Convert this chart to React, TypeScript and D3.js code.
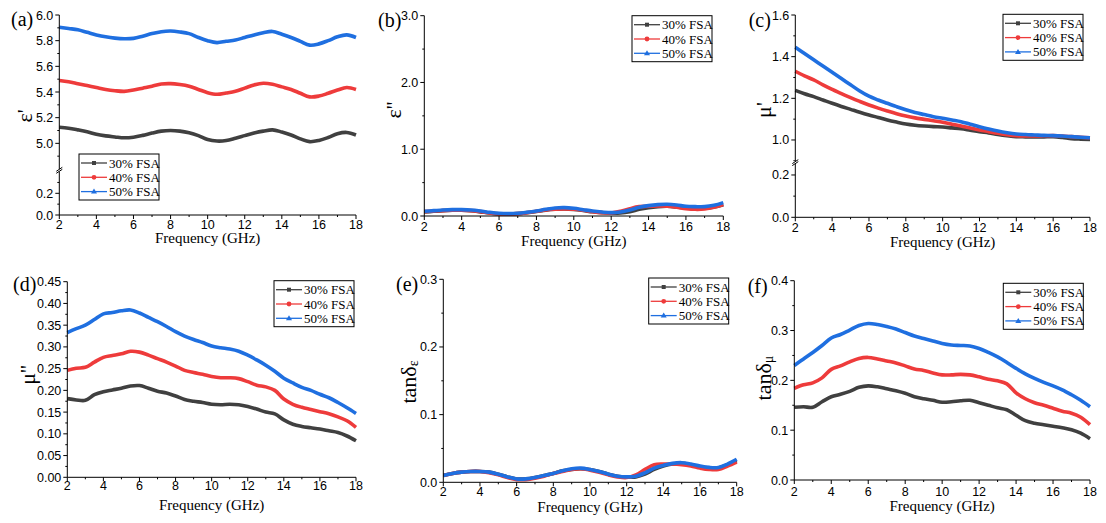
import React from "react";
import * as d3 from "d3";

// ---------- DATA ----------
const freq = [2, 2.5, 3, 3.5, 4, 4.5, 5, 5.5, 6, 6.5, 7, 7.5, 8, 8.5, 9, 9.5, 10, 10.5, 11, 11.5, 12, 12.5, 13, 13.5, 14, 14.5, 15, 15.5, 16, 16.5, 17, 17.5, 18];
const seriesNames = ["30% FSA", "40% FSA", "50% FSA"];
const xTicks = [2, 4, 6, 8, 10, 12, 14, 16, 18];

// (a) epsilon'
const epsReal30 = [5.125, 5.118, 5.105, 5.09, 5.07, 5.058, 5.05, 5.043, 5.048, 5.062, 5.08, 5.095, 5.1, 5.095, 5.082, 5.06, 5.03, 5.018, 5.022, 5.04, 5.06, 5.08, 5.095, 5.105, 5.088, 5.065, 5.035, 5.013, 5.022, 5.045, 5.075, 5.085, 5.065];
const epsReal40 = [5.49, 5.48, 5.465, 5.45, 5.435, 5.42, 5.41, 5.405, 5.415, 5.43, 5.445, 5.462, 5.465, 5.458, 5.445, 5.42, 5.395, 5.382, 5.392, 5.405, 5.43, 5.455, 5.468, 5.46, 5.44, 5.42, 5.39, 5.362, 5.368, 5.39, 5.415, 5.435, 5.42];
const epsReal50 = [5.905, 5.895, 5.885, 5.865, 5.845, 5.83, 5.82, 5.815, 5.818, 5.835, 5.855, 5.87, 5.875, 5.868, 5.855, 5.825, 5.8, 5.785, 5.795, 5.805, 5.825, 5.845, 5.862, 5.872, 5.85, 5.825, 5.795, 5.765, 5.775, 5.8, 5.83, 5.845, 5.825];

// (b) epsilon''
const epsImag30 = [0.06, 0.07, 0.08, 0.085, 0.085, 0.078, 0.062, 0.045, 0.032, 0.03, 0.035, 0.05, 0.068, 0.088, 0.1, 0.105, 0.098, 0.082, 0.063, 0.05, 0.042, 0.045, 0.065, 0.1, 0.125, 0.14, 0.145, 0.135, 0.12, 0.115, 0.115, 0.135, 0.17];
const epsImag40 = [0.065, 0.075, 0.08, 0.085, 0.085, 0.08, 0.065, 0.045, 0.03, 0.03, 0.035, 0.05, 0.07, 0.09, 0.1, 0.105, 0.1, 0.085, 0.065, 0.05, 0.045, 0.07, 0.11, 0.14, 0.145, 0.15, 0.145, 0.13, 0.11, 0.1, 0.105, 0.13, 0.17];
const epsImag50 = [0.07, 0.08, 0.09, 0.095, 0.095, 0.09, 0.075, 0.055, 0.04, 0.035, 0.04, 0.055, 0.075, 0.1, 0.12, 0.125, 0.115, 0.095, 0.075, 0.06, 0.05, 0.06, 0.09, 0.13, 0.155, 0.17, 0.175, 0.165, 0.145, 0.14, 0.14, 0.16, 0.2];

// (c) mu'
const muReal30 = [1.238, 1.222, 1.208, 1.192, 1.176, 1.161, 1.147, 1.133, 1.12, 1.108, 1.096, 1.086, 1.077, 1.071, 1.067, 1.064, 1.062, 1.058, 1.054, 1.047, 1.04, 1.034, 1.027, 1.021, 1.016, 1.015, 1.014, 1.015, 1.016, 1.012, 1.006, 1.004, 1.003];
const muReal40 = [1.33, 1.308, 1.288, 1.265, 1.243, 1.222, 1.203, 1.185, 1.168, 1.153, 1.139, 1.126, 1.115, 1.106, 1.099, 1.092, 1.085, 1.076, 1.067, 1.057, 1.048, 1.04, 1.032, 1.025, 1.02, 1.019, 1.019, 1.02, 1.021, 1.019, 1.016, 1.013, 1.011];
const muReal50 = [1.445, 1.415, 1.385, 1.355, 1.325, 1.295, 1.265, 1.235, 1.21, 1.192, 1.176, 1.16, 1.145, 1.132, 1.122, 1.112, 1.104, 1.096, 1.088, 1.076, 1.064, 1.053, 1.043, 1.035, 1.029, 1.026, 1.024, 1.022, 1.021, 1.019, 1.016, 1.013, 1.011];

// (d) mu''
const muImag30 = [0.181, 0.178, 0.177, 0.19, 0.197, 0.201, 0.205, 0.21, 0.211, 0.205, 0.198, 0.194, 0.187, 0.179, 0.175, 0.172, 0.168, 0.167, 0.168, 0.167, 0.163, 0.157, 0.15, 0.146, 0.132, 0.122, 0.117, 0.114, 0.111, 0.107, 0.103, 0.095, 0.084];
const muImag40 = [0.246, 0.251, 0.253, 0.265, 0.276, 0.28, 0.284, 0.29, 0.288, 0.281, 0.273, 0.265, 0.256, 0.246, 0.241, 0.237, 0.232, 0.229, 0.229, 0.227, 0.22, 0.212, 0.208, 0.2, 0.18, 0.168, 0.161, 0.156, 0.151, 0.146, 0.139, 0.13, 0.115];
const muImag50 = [0.333, 0.342, 0.35, 0.363, 0.376, 0.379, 0.383, 0.385, 0.378, 0.368, 0.358, 0.347, 0.335, 0.325, 0.317, 0.31, 0.302, 0.298, 0.295, 0.29, 0.281, 0.27, 0.258, 0.244, 0.228, 0.217, 0.207, 0.2, 0.191, 0.183, 0.172, 0.16, 0.147];

// (e) tan delta epsilon
const tanE30 = [0.01, 0.013, 0.015, 0.016, 0.016, 0.015, 0.012, 0.008, 0.005, 0.005, 0.007, 0.01, 0.013, 0.017, 0.019, 0.02, 0.019, 0.016, 0.012, 0.009, 0.008, 0.008, 0.012, 0.019, 0.024, 0.027, 0.028, 0.026, 0.023, 0.021, 0.021, 0.026, 0.032];
const tanE40 = [0.01, 0.013, 0.015, 0.016, 0.016, 0.014, 0.011, 0.007, 0.004, 0.004, 0.006, 0.009, 0.013, 0.016, 0.019, 0.02, 0.018, 0.015, 0.011, 0.008, 0.007, 0.011, 0.019, 0.026, 0.027, 0.027, 0.026, 0.024, 0.021, 0.019, 0.019, 0.024, 0.03];
const tanE50 = [0.01, 0.013, 0.015, 0.016, 0.016, 0.015, 0.012, 0.008, 0.005, 0.005, 0.007, 0.01, 0.013, 0.017, 0.02, 0.021, 0.019, 0.016, 0.012, 0.009, 0.008, 0.009, 0.014, 0.021, 0.025, 0.028, 0.029, 0.027, 0.024, 0.022, 0.022, 0.027, 0.034];

// (f) tan delta mu
const tanM30 = [0.146, 0.147, 0.146, 0.157, 0.167, 0.172, 0.178, 0.186, 0.189, 0.187, 0.183, 0.179, 0.174, 0.167, 0.163, 0.16, 0.156, 0.157, 0.159, 0.16, 0.155, 0.15, 0.145, 0.141, 0.13, 0.119, 0.114, 0.111, 0.108, 0.105, 0.101, 0.094, 0.083];
const tanM40 = [0.184, 0.191, 0.195, 0.205, 0.222, 0.229, 0.237, 0.244, 0.246, 0.243, 0.239, 0.235, 0.229, 0.223, 0.22, 0.215, 0.211, 0.211, 0.212, 0.211, 0.207, 0.202, 0.199, 0.193, 0.175, 0.163, 0.155, 0.15, 0.144, 0.138, 0.134, 0.126, 0.111];
const tanM50 = [0.23, 0.243, 0.256, 0.27, 0.285, 0.292, 0.301, 0.31, 0.314, 0.312, 0.308, 0.303, 0.296, 0.289, 0.284, 0.279, 0.274, 0.271, 0.27, 0.269, 0.264, 0.256, 0.247, 0.236, 0.224, 0.213, 0.204, 0.196, 0.189, 0.181, 0.171, 0.16, 0.147];

// ---------- STYLE / LAYOUT ----------
const COLORS = ["#404040", "#ee3b3b", "#1f6fe0"];
const SERIF = "'Liberation Serif', 'Times New Roman', serif";
const SANS = "'Liberation Sans', Arial, sans-serif";

type Seg = { domain: [number, number]; range: [number, number]; ticks: number[]; minor: number[]; fmt: string };

type PanelCfg = {
  label: string;
  labelPos: [number, number];
  xL: number;
  xR: number;
  yAxisBottom: number;
  yAxisTop: number;
  segs: Seg[];
  breakY?: number;
  series: number[][];
  title: React.ReactNode;
  titlePos: [number, number];
  legendPos: [number, number];
  tickBase: number;
  xTitleBase: number;
};

const tickRange = (a: number, b: number, s: number) => {
  const out: number[] = [];
  for (let i = 0; a + i * s <= b + 1e-9; i++) out.push(+(a + i * s).toFixed(4));
  return out;
};

const panels: PanelCfg[] = [
  {
    label: "(a)", labelPos: [11, 26], xL: 59.3, xR: 356, yAxisBottom: 215, yAxisTop: 15,
    segs: [
      { domain: [0, 0.4], range: [215, 171.6], ticks: [0, 0.2], minor: [0.1, 0.3], fmt: ".1f" },
      { domain: [4.8, 6.0], range: [169, 15], ticks: tickRange(5.0, 6.0, 0.2), minor: tickRange(4.9, 5.9, 0.2), fmt: ".1f" },
    ],
    breakY: 170.3,
    series: [epsReal30, epsReal40, epsReal50],
    title: <>ε'</>, titlePos: [24, 116], legendPos: [79, 154], tickBase: 229, xTitleBase: 243,
  },
  {
    label: "(b)", labelPos: [378, 27], xL: 424.3, xR: 723.3, yAxisBottom: 216, yAxisTop: 15.7,
    segs: [{ domain: [0, 3], range: [216, 15.7], ticks: [0, 1, 2, 3], minor: [0.5, 1.5, 2.5], fmt: ".1f" }],
    series: [epsImag30, epsImag40, epsImag50],
    title: <>ε''</>, titlePos: [393, 110], legendPos: [632, 15.7], tickBase: 231, xTitleBase: 246,
  },
  {
    label: "(c)", labelPos: [748.7, 27], xL: 795.3, xR: 1090, yAxisBottom: 217.3, yAxisTop: 15,
    segs: [
      { domain: [0, 0.25], range: [217.3, 164.4], ticks: [0, 0.2], minor: [0.1], fmt: ".1f" },
      { domain: [0.9, 1.6], range: [160.8, 15], ticks: tickRange(1.0, 1.6, 0.2), minor: tickRange(0.9, 1.5, 0.2), fmt: ".1f" },
    ],
    breakY: 162.6,
    series: [muReal30, muReal40, muReal50],
    title: <>μ'</>, titlePos: [763, 110], legendPos: [1003, 14.3], tickBase: 232, xTitleBase: 247,
  },
  {
    label: "(d)", labelPos: [13, 291], xL: 67.3, xR: 356, yAxisBottom: 477.3, yAxisTop: 281.7,
    segs: [{ domain: [0, 0.45], range: [477.3, 281.7], ticks: tickRange(0, 0.45, 0.05), minor: tickRange(0.025, 0.425, 0.05), fmt: ".2f" }],
    series: [muImag30, muImag40, muImag50],
    title: <>μ''</>, titlePos: [27, 375], legendPos: [274, 280.7], tickBase: 490, xTitleBase: 510,
  },
  {
    label: "(e)", labelPos: [396, 291], xL: 443.3, xR: 736.7, yAxisBottom: 482.3, yAxisTop: 279.3,
    segs: [{ domain: [0, 0.3], range: [482.3, 279.3], ticks: [0, 0.1, 0.2, 0.3], minor: [0.05, 0.15, 0.25], fmt: ".1f" }],
    series: [tanE30, tanE40, tanE50],
    title: <>tanδ<tspan fontSize={14} dy={5}>ε</tspan></>, titlePos: [408, 382], legendPos: [648.7, 278], tickBase: 496, xTitleBase: 512,
  },
  {
    label: "(f)", labelPos: [747.7, 293], xL: 794.3, xR: 1090, yAxisBottom: 480, yAxisTop: 280.7,
    segs: [{ domain: [0, 0.4], range: [480, 280.7], ticks: [0, 0.1, 0.2, 0.3, 0.4], minor: [0.05, 0.15, 0.25, 0.35], fmt: ".1f" }],
    series: [tanM30, tanM40, tanM50],
    title: <>tanδ<tspan fontSize={14} dy={5}>μ</tspan></>, titlePos: [763, 378], legendPos: [1003.3, 283.3], tickBase: 496, xTitleBase: 511,
  },
];

function Marker({ kind, x, y, color }: { kind: number; x: number; y: number; color: string }) {
  if (kind === 0) return <rect x={x - 2} y={y - 2} width={4} height={4} fill={color} />;
  if (kind === 1) return <circle cx={x} cy={y} r={2.4} fill={color} />;
  return <path d={`M${x},${y - 3}L${x + 3},${y + 2}L${x - 3},${y + 2}Z`} fill={color} />;
}

function Panel({ p }: { p: PanelCfg }) {
  const x = d3.scaleLinear().domain([2, 18]).range([p.xL, p.xR]);
  const scales = p.segs.map((s) => d3.scaleLinear().domain(s.domain).range(s.range));
  const y = (v: number) => {
    for (let i = p.segs.length - 1; i >= 0; i--) {
      if (v >= p.segs[i].domain[0] || i === 0) return scales[i](v);
    }
    return scales[0](v);
  };
  const line = d3
    .line<number>()
    .x((_, i) => x(freq[i]))
    .y((v) => y(v))
    .curve(d3.curveCatmullRom);
  const xMinor = tickRange(3, 17, 2);
  const [lx, ly] = p.legendPos;
  return (
    <g>
      {/* data */}
      {p.series.map((s, i) => (
        <path key={i} d={line(s) || ""} fill="none" stroke={COLORS[i]} strokeWidth={3.6} strokeLinejoin="round" />
      ))}
      {/* axes */}
      <line x1={p.xL} x2={p.xR} y1={p.yAxisBottom} y2={p.yAxisBottom} stroke="#000" strokeWidth={1} />
      <line x1={p.xL} x2={p.xL} y1={p.yAxisBottom} y2={p.yAxisTop} stroke="#000" strokeWidth={1} />
      {xTicks.map((t) => (
        <g key={"xt" + t}>
          <line x1={x(t)} x2={x(t)} y1={p.yAxisBottom} y2={p.yAxisBottom + 4} stroke="#000" />
          <text x={x(t)} y={p.tickBase} textAnchor="middle" fontFamily={SANS} fontSize={12.5}>{t}</text>
        </g>
      ))}
      {xMinor.map((t) => (
        <line key={"xm" + t} x1={x(t)} x2={x(t)} y1={p.yAxisBottom} y2={p.yAxisBottom + 2} stroke="#000" />
      ))}
      {p.segs.map((s, si) => (
        <g key={"seg" + si}>
          {s.ticks.map((t) => (
            <g key={"yt" + t}>
              <line x1={p.xL - 4} x2={p.xL} y1={scales[si](t)} y2={scales[si](t)} stroke="#000" />
              <text x={p.xL - 6} y={scales[si](t) + 4.5} textAnchor="end" fontFamily={SANS} fontSize={12.5}>{d3.format(s.fmt)(t)}</text>
            </g>
          ))}
          {s.minor.map((t) => (
            <line key={"ym" + t} x1={p.xL - 2} x2={p.xL} y1={scales[si](t)} y2={scales[si](t)} stroke="#000" />
          ))}
        </g>
      ))}
      {p.breakY !== undefined && (
        <g>
          <rect x={p.xL - 3} y={p.breakY - 1.2} width={6} height={2.4} fill="#fff" />
          <line x1={p.xL - 3} x2={p.xL + 3} y1={p.breakY + 1} y2={p.breakY - 3} stroke="#000" />
          <line x1={p.xL - 3} x2={p.xL + 3} y1={p.breakY + 3} y2={p.breakY - 1} stroke="#000" />
        </g>
      )}
      {/* titles */}
      <text x={(p.xL + p.xR) / 2} y={p.xTitleBase} textAnchor="middle" fontFamily={SERIF} fontSize={15}>Frequency (GHz)</text>
      <text transform={`translate(${p.titlePos[0]},${p.titlePos[1]}) rotate(-90)`} textAnchor="middle" dominantBaseline="central" fontFamily={SERIF} fontSize={22}>{p.title}</text>
      <text x={p.labelPos[0]} y={p.labelPos[1]} fontFamily={SERIF} fontSize={20}>{p.label}</text>
      {/* legend */}
      <rect x={lx} y={ly} width={80} height={46} fill="#fff" stroke="#000" strokeWidth={1} />
      {seriesNames.map((n, i) => {
        const ry = ly + 9 + i * 14.3;
        return (
          <g key={n}>
            <line x1={lx + 2} x2={lx + 28} y1={ry} y2={ry} stroke={COLORS[i]} strokeWidth={1.3} />
            <Marker kind={i} x={lx + 15} y={ry} color={COLORS[i]} />
            <text x={lx + 30} y={ry + 4.5} fontFamily={SERIF} fontSize={13}>{n}</text>
          </g>
        );
      })}
    </g>
  );
}

export default function App() {
  return (
    <svg width={1106} height={523} style={{ position: "absolute", left: 0, top: 0, background: "#fff" }}>
      <rect width={1106} height={523} fill="#fff" />
      {panels.map((p) => (
        <Panel key={p.label} p={p} />
      ))}
    </svg>
  );
}
